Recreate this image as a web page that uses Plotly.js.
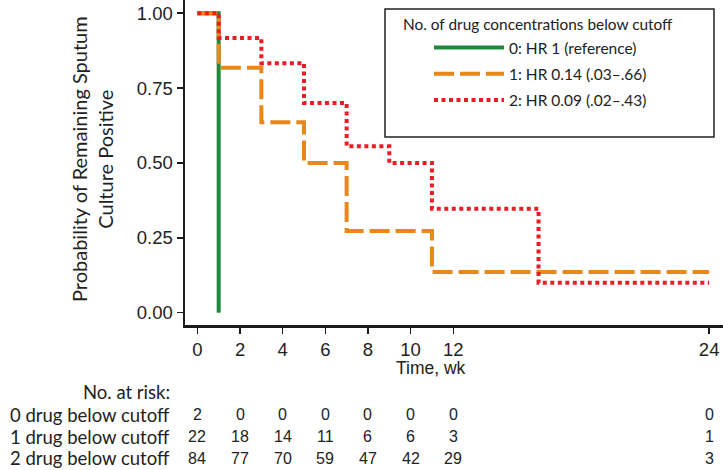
<!DOCTYPE html>
<html>
<head>
<meta charset="utf-8">
<script src="https://cdn.plot.ly/plotly-3.0.1.min.js"></script>
<style>html,body{margin:0;padding:0;background:#fff;}#chart{width:723px;height:470px;}</style>
</head>
<body>
<div id="chart"></div>
<script>
// ---- data ----
var groupNames = ["0: HR 1 (reference)", "1: HR 0.14 (.03\u2013.66)", "2: HR 0.09 (.02\u2013.43)"];
var time0 = [0, 1];
var surv0 = [1, 0];
var time1 = [0, 1, 3, 5, 7, 11, 24];
var surv1 = [1, 0.818, 0.636, 0.50, 0.273, 0.136, 0.136];
var time2 = [0, 1, 3, 5, 7, 9, 11, 16, 24];
var surv2 = [1, 0.917, 0.833, 0.70, 0.556, 0.50, 0.347, 0.10, 0.10];
var xTicks = [0, 2, 4, 6, 8, 10, 12, 24];
var yTicks = [0, 0.25, 0.5, 0.75, 1];
var yTickLabels = ["0.00", "0.25", "0.50", "0.75", "1.00"];
var riskTitle = "No. at risk:";
var riskLabels = ["0 drug below cutoff", "1 drug below cutoff", "2 drug below cutoff"];
var riskTimes = [0, 2, 4, 6, 8, 10, 12, 24];
var risk0 = [2, 0, 0, 0, 0, 0, 0, 0];
var risk1 = [22, 18, 14, 11, 6, 6, 3, 1];
var risk2 = [84, 77, 70, 59, 47, 42, 29, 3];
var legendTitle = "No. of drug concentrations below cutoff";

// ---- layout helpers ----
var W = 723, H = 470, ML = 185, MR = 0, MT = 0, MB = 145;
var PW = W - ML - MR, PH = H - MT - MB;
function px(x) { return (x - ML) / PW; }
function py(y) { return (H - MB - y) / PH; }

var colors = ["#1b8a3c", "#e8871a", "#ec1c24"];
var humanist = "Lato, 'Open Sans', sans-serif";
var arial = "'Liberation Sans', Arial, sans-serif";

var traces = [
  {x: time0, y: surv0, name: groupNames[0], legendgroup: "a", mode: "lines",
   line: {shape: "hv", color: colors[0], width: 4}},
  {x: time1, y: surv1, name: groupNames[1], legendgroup: "b", mode: "lines",
   line: {shape: "hv", color: colors[1], width: 4, dash: "20px,6px"}},
  {x: time2, y: surv2, name: groupNames[2], legendgroup: "c", mode: "lines",
   line: {shape: "hv", color: colors[2], width: 4, dash: "4px,3.5px"}}
];

var ann = [];
// y-axis title
ann.push({xref: "paper", yref: "paper", x: px(92), y: py(159), xanchor: "center", yanchor: "middle",
  textangle: -90, showarrow: false, text: "Probability of Remaining Sputum<br>Culture Positive",
  font: {family: humanist, size: 20, color: "#222"}});
// x-axis title
ann.push({xref: "paper", yref: "paper", x: px(431), y: py(368), xanchor: "center", yanchor: "middle",
  showarrow: false, text: "Time, wk", font: {family: arial, size: 17.5, color: "#222"}});
// legend title
ann.push({xref: "paper", yref: "paper", x: px(401), y: py(24), xanchor: "left", yanchor: "middle",
  showarrow: false, text: legendTitle, font: {family: humanist, size: 15.4, color: "#222"}});
// risk table
ann.push({xref: "paper", yref: "paper", x: px(172), y: py(392), xanchor: "right", yanchor: "middle",
  showarrow: false, text: riskTitle, font: {family: humanist, size: 18.5, color: "#222"}});
var riskRows = [risk0, risk1, risk2];
var rowY = [415, 436.5, 458];
for (var r = 0; r < 3; r++) {
  ann.push({xref: "paper", yref: "paper", x: px(172), y: py(rowY[r]), xanchor: "right", yanchor: "middle",
    showarrow: false, text: riskLabels[r], font: {family: humanist, size: 18.5, color: "#222"}});
  for (var i = 0; i < riskTimes.length; i++) {
    ann.push({xref: "x", yref: "paper", x: riskTimes[i], y: py(rowY[r]), xanchor: "center", yanchor: "middle",
      showarrow: false, text: String(riskRows[r][i]), font: {family: arial, size: 16, color: "#222"}});
  }
}

var layout = {
  width: W, height: H,
  margin: {l: ML, r: MR, t: MT, b: MB, pad: 0},
  paper_bgcolor: "#fff", plot_bgcolor: "#fff",
  showlegend: true,
  legend: {x: px(429), y: py(31), xanchor: "left", yanchor: "top",
    bgcolor: "rgba(0,0,0,0)", borderwidth: 0, itemwidth: 70,
    traceorder: "grouped", tracegroupgap: 3,
    font: {family: humanist, size: 15.5, color: "#222"}},
  xaxis: {range: [-0.58, 24.65], tickmode: "array", tickvals: xTicks, ticktext: xTicks.map(String),
    showgrid: false, zeroline: false, showline: true, linecolor: "#1a1a1a", linewidth: 2.5,
    ticks: "outside", ticklen: 6, tickwidth: 1.5, tickcolor: "#1a1a1a",
    tickfont: {family: arial, size: 18.5, color: "#222"}},
  yaxis: {range: [-0.041, 1.044], tickmode: "array", tickvals: yTicks, ticktext: yTickLabels,
    showgrid: false, zeroline: false, showline: true, linecolor: "#1a1a1a", linewidth: 2.5,
    ticks: "outside", ticklen: 6, tickwidth: 1.5, tickcolor: "#1a1a1a",
    tickfont: {family: arial, size: 18.5, color: "#222"}},
  shapes: [{type: "rect", xref: "paper", yref: "paper", x0: px(385), x1: px(714), y0: py(9), y1: py(137),
    line: {color: "#222", width: 1.5}, fillcolor: "#fff", layer: "above"}],
  annotations: ann
};

Plotly.newPlot("chart", traces, layout, {displayModeBar: false, staticPlot: true});
</script>
</body>
</html>
